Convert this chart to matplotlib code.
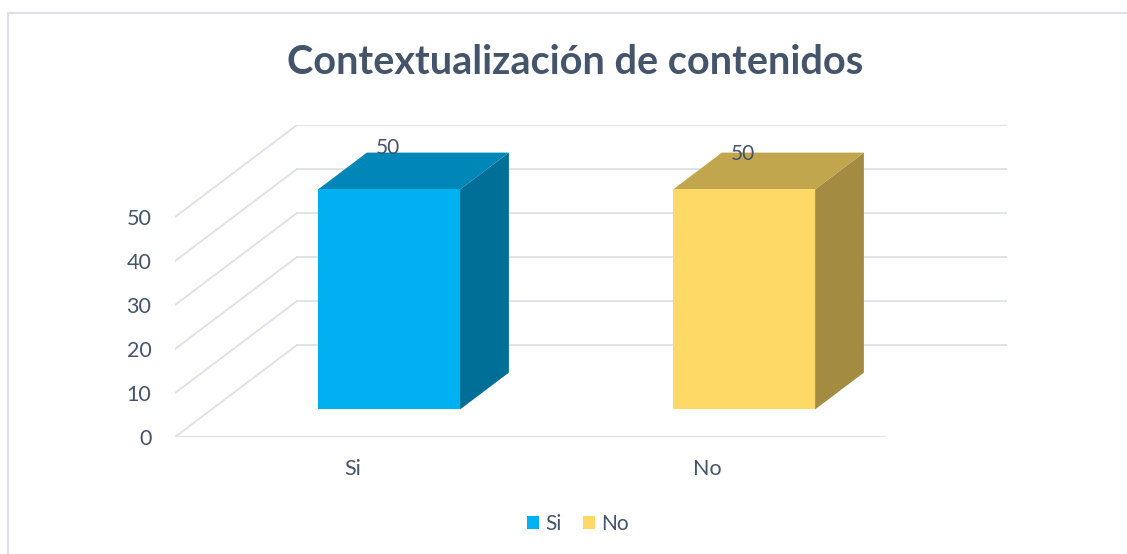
import matplotlib
matplotlib.use('Agg')
import matplotlib.pyplot as plt
from matplotlib.patches import Polygon, Rectangle, Patch

categories = ['Si', 'No']
values = [50, 50]
yticks = [0, 10, 20, 30, 40, 50]
front_colors = ['#00B0F0', '#FFD966']
top_colors = ['#0087B8', '#C2A64E']
side_colors = ['#006F98', '#A38C41']

TEXT = '#44546A'
GRID = '#DDE1E7'
plt.rcParams['font.family'] = ['Lato', 'DejaVu Sans']

W, H = 1127, 554
fig = plt.figure(figsize=(W / 100, H / 100), dpi=100)
fig.patch.set_facecolor('white')

# oblique "3D" depth vector, in data units
DX = 122 / 355
DY = 92 / 4.4

def P(x, y, z):
    return (x + z * DX, y + z * DY)

xmax = len(categories) + DX
ymax = max(yticks) + DY
# axes placed so the front floor line sits at pixel (175, 437)
ax_w = xmax * 355 / W
ax_h = ymax * 4.4 / H
ax = fig.add_axes([175 / W, (H - 437) / H, ax_w, ax_h])
ax.set_xlim(0, xmax)
ax.set_ylim(0, ymax)
for s in ax.spines.values():
    s.set_visible(False)
ax.patch.set_alpha(0)

# walls / gridlines
n = len(categories)
for v in yticks:
    a, b = P(0, v, 0), P(0, v, 1)
    ax.plot([a[0], b[0]], [a[1], b[1]], color=GRID, lw=1.3, zorder=1)
    c = P(n, v, 1)
    ax.plot([b[0], c[0]], [b[1], c[1]], color=GRID, lw=1.3, zorder=1)
a, b = P(0, 0, 0), P(n, 0, 0)
ax.plot([a[0], b[0]], [a[1], b[1]], color=GRID, lw=1.3, zorder=1)

# bars
bw = 0.4
z0, z1 = 0.3, 0.7
for i, val in enumerate(values):
    x0, x1 = i + 0.5 - bw / 2, i + 0.5 + bw / 2
    front = [P(x0, 0, z0), P(x1, 0, z0), P(x1, val, z0), P(x0, val, z0)]
    top = [P(x0, val, z0), P(x1, val, z0), P(x1, val, z1), P(x0, val, z1)]
    side = [P(x1, 0, z0), P(x1, 0, z1), P(x1, val, z1), P(x1, val, z0)]
    ax.add_patch(Polygon(side, closed=True, fc=side_colors[i], ec='none', zorder=3))
    ax.add_patch(Polygon(top, closed=True, fc=top_colors[i], ec='none', zorder=3))
    ax.add_patch(Polygon(front, closed=True, fc=front_colors[i], ec='none', zorder=4))
    lx, ly = P(x0 + 0.06, val, z1)
    ax.annotate(f'{val}', (lx, ly), xytext=(0, 3 - 4 * i), textcoords='offset points',
                ha='center', va='center', fontsize=15, color=TEXT, zorder=5)

ax.set_yticks(yticks)
ax.set_yticklabels([str(t) for t in yticks])
ax.set_xticks([i + 0.5 for i in range(n)])
ax.set_xticklabels(categories)
ax.tick_params(axis='y', length=0, pad=17, labelsize=15.5, labelcolor=TEXT)
ax.tick_params(axis='x', length=0, pad=16, labelsize=15.5, labelcolor=TEXT)

# title
fig.text(575 / W, (H - 62) / H, 'Contextualización de contenidos', ha='center', va='center',
         fontsize=28.5, fontweight='bold', color=TEXT)

# legend
handles = [Patch(facecolor=c, edgecolor='none') for c in front_colors]
fig.legend(handles, categories, loc='center', bbox_to_anchor=(578 / W, (H - 524) / H),
           ncol=2, frameon=False, fontsize=15, handlelength=0.6, handleheight=0.6,
           handletextpad=0.3, columnspacing=1.0, labelcolor=TEXT)

# chart border
fig.add_artist(Rectangle((8 / W, -0.1), 1.2, (H - 13) / H + 0.1, transform=fig.transFigure,
                         fill=False, ec='#DCE0E6', lw=1.5))

fig.savefig('out.png', dpi=100, facecolor='white')
